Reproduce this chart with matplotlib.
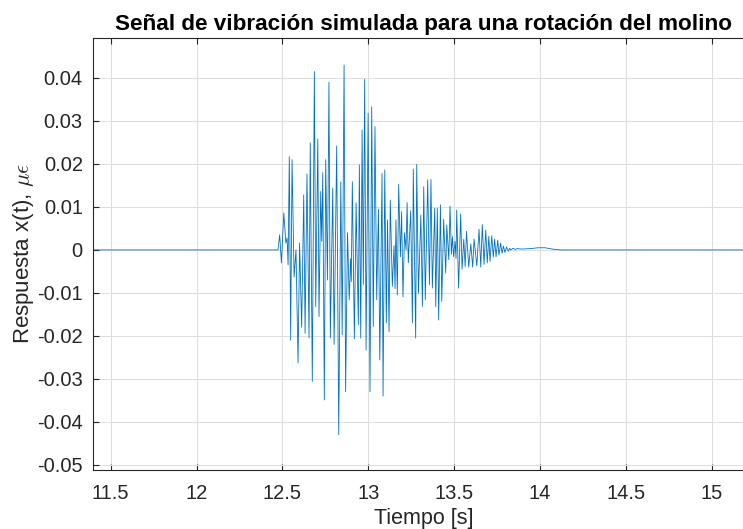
import numpy as np
import matplotlib
matplotlib.use("Agg")
import matplotlib.pyplot as plt
from matplotlib.ticker import FuncFormatter

plt.rcParams['font.family'] = ['Liberation Sans', 'DejaVu Sans']
plt.rcParams['axes.unicode_minus'] = False
plt.rcParams['mathtext.fontset'] = 'cm'

tiempo = [
    11.30, 12.474, 12.484, 12.494, 12.508, 12.520, 12.527, 12.533, 12.540, 12.548,
    12.556, 12.568, 12.579, 12.591, 12.600, 12.612, 12.624, 12.632, 12.643, 12.655,
    12.662, 12.674, 12.686, 12.694, 12.706, 12.713, 12.723, 12.729, 12.735, 12.744,
    12.752, 12.762, 12.771, 12.779, 12.793, 12.801, 12.816, 12.828, 12.840, 12.848,
    12.859, 12.868, 12.879, 12.889, 12.897, 12.901, 12.907, 12.919, 12.929, 12.942,
    12.948, 12.956, 12.964, 12.971, 12.979, 12.987, 12.999, 13.010, 13.020, 13.029,
    13.039, 13.049, 13.059, 13.067, 13.080, 13.086, 13.096, 13.105, 13.112, 13.121,
    13.128, 13.140, 13.150, 13.156, 13.161, 13.169, 13.177, 13.187, 13.194, 13.202,
    13.211, 13.220, 13.226, 13.233, 13.247, 13.257, 13.262, 13.276, 13.282, 13.292,
    13.306, 13.315, 13.323, 13.332, 13.346, 13.356, 13.365, 13.373, 13.387, 13.393,
    13.402, 13.410, 13.420, 13.428, 13.439, 13.451, 13.457, 13.469, 13.476, 13.484,
    13.490, 13.497, 13.505, 13.511, 13.515, 13.526, 13.538, 13.546, 13.556, 13.564,
    13.572, 13.585, 13.597, 13.608, 13.616, 13.632, 13.645, 13.655, 13.664, 13.674,
    13.684, 13.693, 13.702, 13.709, 13.719, 13.728, 13.736, 13.744, 13.754, 13.761,
    13.771, 13.779, 13.787, 13.796, 13.805, 13.816, 13.823, 13.831, 13.843, 13.855,
    13.866, 13.895, 13.942, 13.989, 14.029, 14.070, 14.117, 15.30,
]
respuesta = [
    0.0, 0.0, 0.0035, -0.0030, 0.0086, 0.0016, 0.0028, -0.0035, 0.0217, -0.0210,
    0.0210, -0.0063, 0.0000, -0.0263, 0.0016, -0.0180, 0.0128, -0.0194, 0.0177, -0.0205,
    0.0249, -0.0306, 0.0415, -0.0132, 0.0258, -0.0155, 0.0136, 0.0020, 0.0180, -0.0349,
    0.0210, -0.0070, 0.0390, -0.0205, 0.0144, -0.0220, 0.0242, -0.0430, 0.0159, -0.0198,
    0.0430, -0.0330, 0.0040, -0.0116, -0.0020, -0.0074, 0.0159, -0.0207, 0.0110, -0.0174,
    0.0198, -0.0205, 0.0279, -0.0080, 0.0397, -0.0233, 0.0318, -0.0330, 0.0333, -0.0178,
    0.0287, -0.0116, 0.0095, -0.0256, 0.0178, -0.0340, 0.0186, -0.0170, 0.0070, -0.0190,
    0.0116, -0.0085, 0.0010, -0.0090, 0.0070, -0.0105, 0.0153, -0.0016, 0.0089, -0.0109,
    0.0040, 0.0000, 0.0110, -0.0030, 0.0091, -0.0170, 0.0188, -0.0205, 0.0199, -0.0101,
    0.0081, -0.0132, 0.0147, -0.0116, 0.0163, -0.0081, 0.0164, -0.0089, 0.0097, -0.0132,
    0.0097, -0.0163, 0.0105, -0.0120, 0.0071, -0.0054, 0.0058, -0.0023, 0.0102, -0.0010,
    0.0031, -0.0016, 0.0020, -0.0020, 0.0093, -0.0089, 0.0084, -0.0045, 0.0025, -0.0039,
    0.0043, -0.0040, 0.0014, -0.0040, 0.0025, -0.0037, 0.0048, -0.0040, 0.0059, -0.0034,
    0.0046, -0.0030, 0.0032, -0.0027, 0.0033, -0.0017, 0.0025, -0.0016, 0.0023, -0.0012,
    0.0016, -0.0008, 0.0009, -0.0006, 0.0007, -0.0003, 0.0004, 0.0000, 0.0004, 0.0001,
    0.0003, 0.0002, 0.0003, 0.0005, 0.0005, 0.0002, 0.0000, 0.0,
]

xticks = [11.5, 12, 12.5, 13, 13.5, 14, 14.5, 15]
yticks = [-0.05, -0.04, -0.03, -0.02, -0.01, 0, 0.01, 0.02, 0.03, 0.04]

fig = plt.figure(figsize=(7.43, 5.29), dpi=100)
ax = fig.add_axes([92.5 / 743, 1 - 470 / 529, (755 - 92.5) / 743, (470 - 38) / 529])

ax.plot(tiempo, respuesta, color='#0072BD', lw=0.6)

ax.set_xlim(11.394, 15.252)
ax.set_ylim(-0.0512, 0.0493)
ax.set_xticks(xticks)
ax.set_yticks(yticks)
fmt = FuncFormatter(lambda v, p: '%g' % round(v, 4))
ax.xaxis.set_major_formatter(fmt)
ax.yaxis.set_major_formatter(fmt)

ax.grid(True, color='#dedede', lw=0.8)
ax.set_axisbelow(True)
ax.tick_params(direction='in', length=4, width=0.8, colors='#262626',
               labelsize=14.5, top=True, right=True)
ax.tick_params(axis='x', pad=10)
ax.tick_params(axis='y', pad=7)
for s in ax.spines.values():
    s.set_color('#262626')
    s.set_linewidth(0.8)

ax.set_xlabel('Tiempo [s]', fontsize=15.5, color='#262626', labelpad=4)
ax.set_ylabel(r'Respuesta x(t), $\mu\epsilon$', fontsize=16, color='#262626', labelpad=1)
ax.set_title('Señal de vibración simulada para una rotación del molino',
             fontsize=16.2, fontweight='bold', color='black', pad=6)

fig.savefig('out.png', dpi=100)
